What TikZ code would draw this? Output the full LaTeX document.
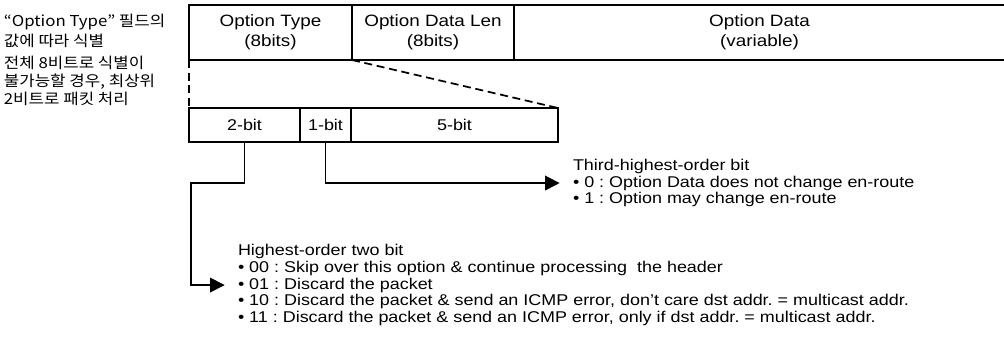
\documentclass[tikz,border=0pt]{standalone}
\usepackage{fontspec}
\setmainfont{Liberation Sans}[FakeStretch=1.15]
\newfontfamily\krfont{Noto Sans CJK KR}[FakeStretch=1.12]
\usetikzlibrary{arrows.meta, positioning}
\frenchspacing
\tikzset{
    fieldnode/.style = {draw, rectangle, outer sep=0pt, inner sep=0pt, minimum height=41.25pt,
      align=center, font=\fontsize{12.3}{15}\selectfont},
    bitnode/.style = {draw, rectangle, outer sep=0pt, inner sep=0pt, minimum height=25.5pt,
      font=\fontsize{11.7}{14}\selectfont},
    textnode/.style = {draw=none, fill=none, rectangle, inner sep=0pt, outer sep=0pt,
      text height=9.2pt, text depth=3.2pt, font=\fontsize{11.7}{14}\selectfont},
    krnode/.style = {draw=none, fill=none, inner sep=0pt, align=left},
    connect/.style = {black, -{Triangle[length=11pt, width=11pt]}, shorten >=10pt},
    dashline/.style = {dash pattern=on 6pt off 3.5pt}
}

\begin{document}
\begin{tikzpicture}[x=0.75pt, y=-0.75pt, line width=1.3pt]
\useasboundingbox (0,0) rectangle (1004,349);

% header fields
\node[fieldnode, anchor=north west, minimum width=122.25pt, name=otype] at (189,5) {Option Type\\(8bits)};
\node[fieldnode, right=0pt of otype, minimum width=121.5pt, name=odlen] {Option Data Len\\(8bits)};
\node[fieldnode, draw=none, right=0pt of odlen, minimum width=368.25pt, name=odata] {Option Data\\(variable)};
\draw (odata.north west) -- (odata.north east) (odata.south west) -- (odata.south east);

% option type bits
\node[bitnode, anchor=north west, minimum width=83.25pt, name=twobit] at (189,108) {2-bit};
\node[bitnode, right=0pt of twobit, minimum width=38.25pt, name=onebit] {1-bit};
\node[bitnode, right=0pt of onebit, minimum width=155.25pt, name=fivebit] {5-bit};
\draw[dashline] (otype.south west) -- (twobit.north west);
\draw[dashline] (otype.south east) -- (fivebit.north east);

% notes
\node[krnode, anchor=north west, font=\krfont\fontsize{11.25}{15.4}\selectfont, name=krtype] at (3,13)
  {“Option Type” 필드의\\값에 따라 식별};
\node[krnode, anchor=north west, font=\krfont\fontsize{11.25}{13.5}\selectfont, name=krfall] at (3,55)
  {전체 8비트로 식별이\\불가능할 경우, 최상위\\2비트로 패킷 처리};

\node[textnode, anchor=west, name=third] at (573,166.5) {Third-highest-order bit};
\node[textnode, below=0pt of third.south west, anchor=north west, name=third0] {• 0 : Option Data does not change en-route};
\node[textnode, below=0pt of third0.south west, anchor=north west, name=third1] {• 1 : Option may change en-route};

\node[textnode, anchor=west, name=high] at (238,252) {Highest-order two bit};
\node[textnode, below=0pt of high.south west, anchor=north west, name=high00] {• 00 : Skip over this option \& continue processing~ the header};
\node[textnode, below=0pt of high00.south west, anchor=north west, name=high01] {• 01 : Discard the packet};
\node[textnode, below=0pt of high01.south west, anchor=north west, name=high10] {• 10 : Discard the packet \& send an ICMP error, don’t care dst addr. = multicast addr.};
\node[textnode, below=0pt of high10.south west, anchor=north west, name=high11] {• 11 : Discard the packet \& send an ICMP error, only if dst addr. = multicast addr.};

% connectors
\coordinate (bend) at (191,183);
\draw[connect] (onebit.south) |- (third0.west);
\draw[connect] (twobit.south) |- (bend) |- (high01.west);
\end{tikzpicture}
\end{document}
